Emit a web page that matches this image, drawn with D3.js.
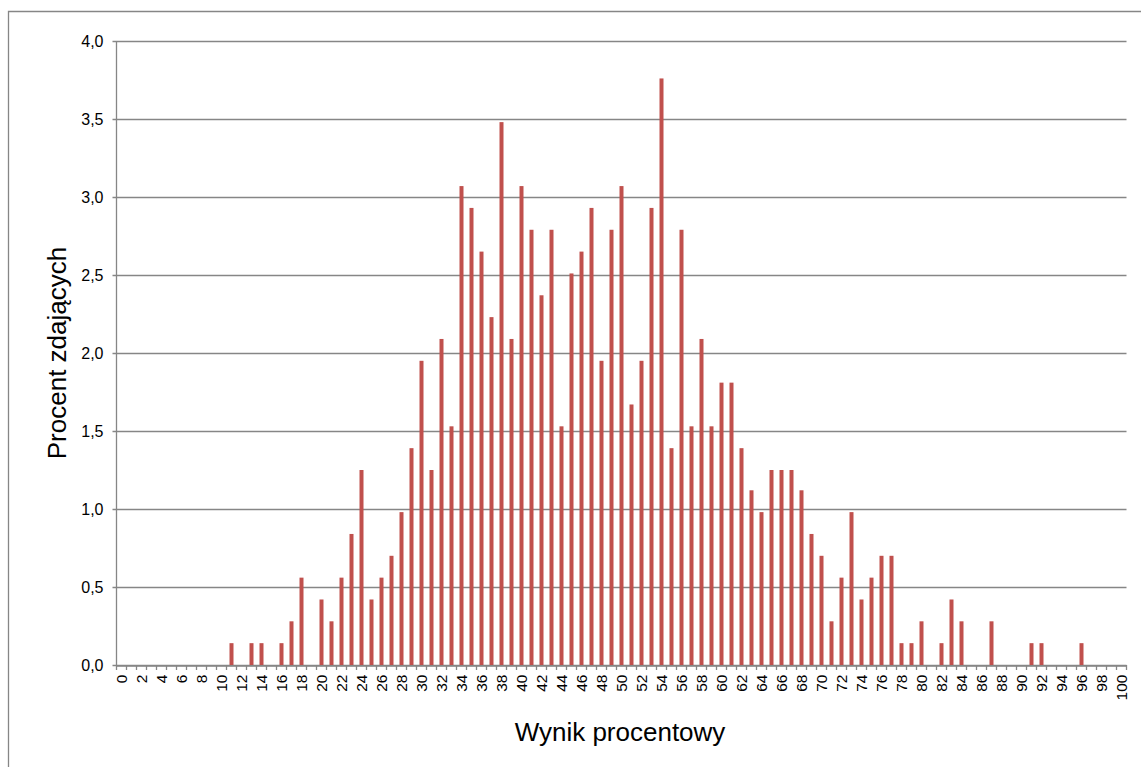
<!DOCTYPE html>
<html>
<head>
<meta charset="utf-8">
<script src="https://cdnjs.cloudflare.com/ajax/libs/d3/7.8.5/d3.min.js"></script>
<style>
  body { margin: 0; background: #fff; }
  text { font-family: "Liberation Sans", Arial, sans-serif; fill: #000; }
</style>
</head>
<body>
<svg id="chart" width="1141" height="767"></svg>
<script>
// wynik procentowy 0..100
var scores = d3.range(0, 101);
// procent zdajacych dla kazdego wyniku
var percents = [
  0, 0, 0, 0, 0, 0, 0, 0, 0, 0,
  0, 0.14, 0, 0.14, 0.14, 0, 0.14, 0.28, 0.56, 0,
  0.42, 0.28, 0.56, 0.84, 1.25, 0.42, 0.56, 0.70, 0.98, 1.39,
  1.95, 1.25, 2.09, 1.53, 3.07, 2.93, 2.65, 2.23, 3.48, 2.09,
  3.07, 2.79, 2.37, 2.79, 1.53, 2.51, 2.65, 2.93, 1.95, 2.79,
  3.07, 1.67, 1.95, 2.93, 3.76, 1.39, 2.79, 1.53, 2.09, 1.53,
  1.81, 1.81, 1.39, 1.12, 0.98, 1.25, 1.25, 1.25, 1.12, 0.84,
  0.70, 0.28, 0.56, 0.98, 0.42, 0.56, 0.70, 0.70, 0.14, 0.14,
  0.28, 0, 0.14, 0.42, 0.28, 0, 0, 0.28, 0, 0,
  0, 0.14, 0.14, 0, 0, 0, 0.14, 0, 0, 0,
  0
];
var yTicks = [0, 0.5, 1, 1.5, 2, 2.5, 3, 3.5, 4];
var xTitle = "Wynik procentowy";
var yTitle = "Procent zdających";

var svg = d3.select("#chart");
var margin = {left: 116.5, top: 41, right: 1126.5, bottom: 665};
var grey = "#868686";

// ramka (tylko lewa i gorna krawedz widoczna)
svg.append("path")
  .attr("d", "M8.5,767 L8.5,11.5 L1141,11.5")
  .attr("fill", "none").attr("stroke", grey).attr("stroke-width", 1.3);

var x = d3.scaleBand().domain(scores).range([margin.left, margin.right]).padding(0);
var y = d3.scaleLinear().domain([0, 4]).range([margin.bottom, margin.top]);
var fmt = function(d) { return d3.format(".1f")(d).replace(".", ","); };

// siatka
svg.append("g").selectAll("line").data(yTicks).enter().append("line")
  .attr("x1", margin.left - 4).attr("x2", margin.right)
  .attr("y1", function(d) { return Math.round(y(d)) + 0.5; })
  .attr("y2", function(d) { return Math.round(y(d)) + 0.5; })
  .attr("stroke", grey).attr("stroke-width", 1.3);

svg.append("g").selectAll("text").data(yTicks).enter().append("text")
  .attr("x", margin.left - 13)
  .attr("y", function(d) { return y(d) + 5.5; })
  .attr("text-anchor", "end")
  .style("font-size", "16px")
  .text(fmt);

// slupki
svg.append("g").selectAll("rect").data(scores).enter().append("rect")
  .attr("x", function(d) { return x(d) + x.bandwidth() / 2 - 2; })
  .attr("width", 4)
  .attr("y", function(d) { return y(percents[d]); })
  .attr("height", function(d) { return y(0) - y(percents[d]); })
  .attr("fill", "#C0504D");

// os Y
svg.append("line")
  .attr("x1", margin.left).attr("x2", margin.left)
  .attr("y1", margin.top).attr("y2", margin.bottom)
  .attr("stroke", grey).attr("stroke-width", 1.3);

// os X
var xAxis = d3.axisBottom(x).tickSize(0).tickFormat(function(d) { return d % 2 === 0 ? d : ""; });
var gx = svg.append("g").attr("transform", "translate(0," + (margin.bottom + 0.5) + ")").call(xAxis);
gx.select(".domain").attr("stroke", grey).attr("stroke-width", 1.3);
gx.selectAll(".tick text")
  .attr("transform", "rotate(-90)")
  .attr("text-anchor", "end")
  .attr("x", -9).attr("y", 0).attr("dy", "0.35em")
  .style("font-family", "Liberation Sans, Arial, sans-serif")
  .style("font-size", "15.5px").attr("fill", "#000");

// kreski podzialki na granicach kategorii
svg.append("g").selectAll("line").data(d3.range(0, 102)).enter().append("line")
  .attr("x1", function(d) { return margin.left + d * x.bandwidth(); })
  .attr("x2", function(d) { return margin.left + d * x.bandwidth(); })
  .attr("y1", margin.bottom).attr("y2", margin.bottom + 5)
  .attr("stroke", grey).attr("stroke-width", 1.3);

// tytuly osi
svg.append("text")
  .attr("x", 620)
  .attr("y", 741)
  .attr("text-anchor", "middle")
  .style("font-size", "26px")
  .text(xTitle);

svg.append("text")
  .attr("transform", "translate(66," + 353 + ") rotate(-90)")
  .attr("text-anchor", "middle")
  .style("font-size", "26px")
  .text(yTitle);
</script>
</body>
</html>
